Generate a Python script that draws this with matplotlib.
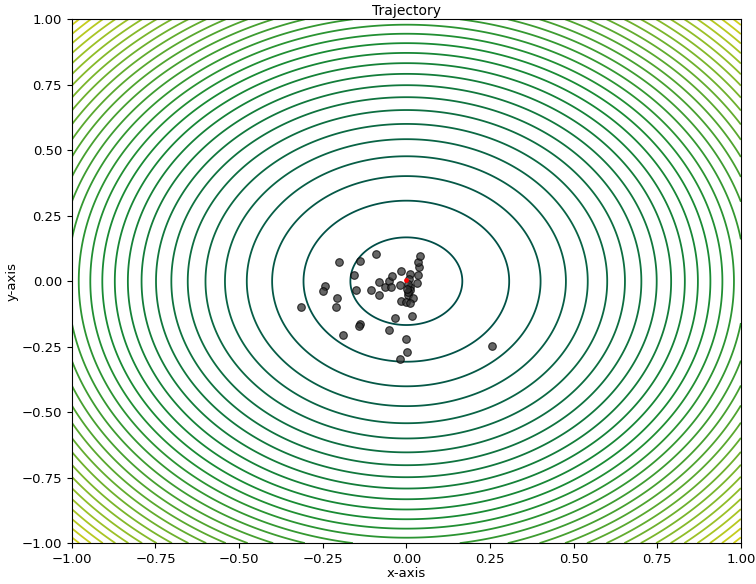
import numpy as np
import matplotlib
matplotlib.use("Agg")
import matplotlib.pyplot as plt
from matplotlib.colors import LinearSegmentedColormap

# Contour levels of f(x, y) = x^2 + y^2
level_start = 0.028
level_step = 0.0665
n_levels = 30

# Trajectory points (x, y)
traj_x = [-0.092, -0.201, -0.138, -0.157, -0.152, -0.243, -0.248, -0.207, -0.211, -0.316,
          -0.139, -0.143, -0.189, -0.052, -0.034, 0.016, -0.002, 0.001, -0.020, 0.257,
          -0.107, -0.081, -0.081, -0.065, -0.052, -0.044, -0.045, -0.016, -0.019, 0.010,
          0.008, 0.010, 0.012, 0.005, 0.020, -0.017, -0.002, 0.010, 0.033, 0.036,
          0.038, 0.036, 0.042, 0.004, 0.006, 0.002]
traj_y = [0.102, 0.075, 0.079, 0.023, -0.032, -0.019, -0.038, -0.066, -0.100, -0.100,
          -0.165, -0.170, -0.206, -0.187, -0.141, -0.132, -0.220, -0.271, -0.298, -0.247,
          -0.032, -0.051, -0.003, -0.024, 0.000, 0.019, -0.022, 0.038, -0.016, 0.026,
          0.008, -0.022, -0.034, -0.053, -0.066, -0.076, -0.079, -0.085, -0.005, 0.023,
          0.055, 0.074, 0.098, -0.010, -0.040, -0.030]
final_x = [0.0]
final_y = [0.005]

levels = [level_start + i * level_step for i in range(n_levels)]

fig = plt.figure(figsize=(7.56, 5.84), dpi=100)
ax = fig.add_axes([0.095, 0.070, 0.885, 0.897])

xs = np.linspace(-1, 1, 400)
ys = np.linspace(-1, 1, 400)
X, Y = np.meshgrid(xs, ys)
Z = X**2 + Y**2

cmap = LinearSegmentedColormap.from_list(
    "traj",
    [(0.0, (0.0, 0.30, 0.28)),
     (0.15, (0.04, 0.40, 0.27)),
     (0.42, (0.10, 0.55, 0.20)),
     (0.70, (0.40, 0.68, 0.18)),
     (0.87, (0.62, 0.76, 0.15)),
     (1.0, (0.82, 0.82, 0.10))])

ax.contour(X, Y, Z, levels=levels, cmap=cmap, linewidths=1.3)

ax.scatter(traj_x, traj_y, s=30, c="#333333", edgecolors="black", linewidths=0.8,
           alpha=0.75, zorder=3)
ax.scatter(final_x, final_y, s=6, c="red", zorder=4)

ax.set_xlim(-1, 1)
ax.set_ylim(-1, 1)
ax.set_xticks([-1.0, -0.75, -0.5, -0.25, 0.0, 0.25, 0.5, 0.75, 1.0])
ax.set_yticks([-1.0, -0.75, -0.5, -0.25, 0.0, 0.25, 0.5, 0.75, 1.0])
ax.tick_params(labelsize=9.5)
ax.set_xlabel("x-axis", fontsize=9.5, labelpad=1)
ax.set_ylabel("y-axis", fontsize=9.5, labelpad=2)
ax.set_title("Trajectory", fontsize=10, pad=3)

fig.savefig("out.png", dpi=100)
